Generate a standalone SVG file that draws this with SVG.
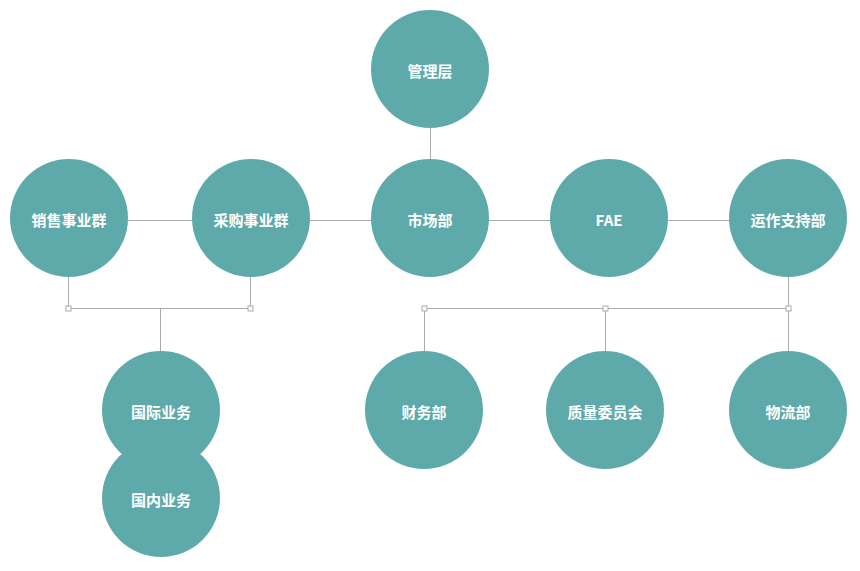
<svg xmlns="http://www.w3.org/2000/svg" width="860" height="571" viewBox="0 0 860 571">
<style>
.n{fill:#5eaaab}
.t{fill:#fff;font-family:"Microsoft YaHei","Noto Sans CJK SC",sans-serif;font-weight:bold;font-size:15px;text-anchor:middle;dominant-baseline:central}
.c{stroke:#aaaaaa;stroke-width:1;fill:none}
.h{fill:#fff;stroke:#aaaaaa;stroke-width:1}
</style>
<rect width="860" height="571" fill="#fff"/>
<g id="connectors">
<path class="c" d="M430.5,128V159 M128,220.5H729 M68.5,277V308.5H250.5V277 M160.5,308.5V351 M788.5,277V308.5 M424.5,308.5H788.5 M424.5,308.5V351 M605.5,308.5V351 M788.5,308.5V351"/>
<rect class="h" x="66" y="306" width="5" height="5"/>
<rect class="h" x="248" y="306" width="5" height="5"/>
<rect class="h" x="422" y="306" width="5" height="5"/>
<rect class="h" x="603" y="306" width="5" height="5"/>
<rect class="h" x="786" y="306" width="5" height="5"/>
</g>
<g id="n-guanli"><circle class="n" cx="430" cy="69" r="59"/><text class="t" x="430" y="70">管理层</text></g>
<g id="n-xiaoshou"><circle class="n" cx="69" cy="218" r="59"/><text class="t" x="69" y="219">销售事业群</text></g>
<g id="n-caigou"><circle class="n" cx="251" cy="218" r="59"/><text class="t" x="251" y="219">采购事业群</text></g>
<g id="n-shichang"><circle class="n" cx="430" cy="218" r="59"/><text class="t" x="430" y="219">市场部</text></g>
<g id="n-fae"><circle class="n" cx="609" cy="218" r="59"/><text class="t" x="609" y="219">FAE</text></g>
<g id="n-yunzuo"><circle class="n" cx="788" cy="218" r="59"/><text class="t" x="788" y="219">运作支持部</text></g>
<g id="n-guoji"><circle class="n" cx="161" cy="410" r="59"/><text class="t" x="161" y="411">国际业务</text></g>
<g id="n-guonei"><circle class="n" cx="161" cy="498" r="59"/><text class="t" x="161" y="499">国内业务</text></g>
<g id="n-caiwu"><circle class="n" cx="424" cy="410" r="59"/><text class="t" x="424" y="411">财务部</text></g>
<g id="n-zhiliang"><circle class="n" cx="605" cy="410" r="59"/><text class="t" x="605" y="411">质量委员会</text></g>
<g id="n-wuliu"><circle class="n" cx="788" cy="410" r="59"/><text class="t" x="788" y="411">物流部</text></g>
</svg>
